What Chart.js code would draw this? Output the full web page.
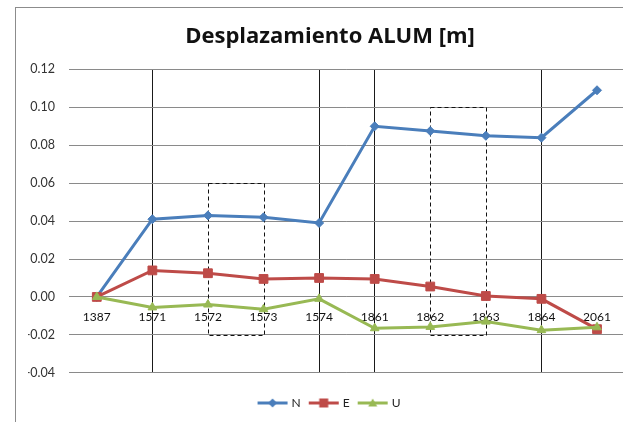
<!DOCTYPE html>
<html>
<head>
<meta charset="utf-8">
<script src="https://cdn.jsdelivr.net/npm/chart.js@4.4.1/dist/chart.umd.min.js"></script>
<style>
  html, body { margin: 0; padding: 0; background: #fff; overflow: hidden; }
  #wrap { width: 623px; height: 422px; position: relative; overflow: hidden; }
  #chart { position: absolute; left: 0; top: 0; }
</style>
</head>
<body>
<div id="wrap"><canvas id="chart" width="632" height="422"></canvas></div>
<script>
// Survey epochs (category axis)
const epochs = ['1387', '1571', '1572', '1573', '1574', '1861', '1862', '1863', '1864', '2061'];

// Displacement components [m]
const northValues = [0.000, 0.041, 0.043, 0.042, 0.039, 0.090, 0.0875, 0.085, 0.084, 0.109];
const eastValues  = [0.000, 0.014, 0.0125, 0.0095, 0.010, 0.0095, 0.0055, 0.0005, -0.001, -0.017];
const upValues    = [0.000, -0.0055, -0.004, -0.0065, -0.001, -0.0165, -0.0158, -0.013, -0.0175, -0.016];

// Epochs marked with a solid vertical rule
const markedEpochs = ['1571', '1574', '1861', '1864'];

// Dashed boxes: [from epoch, to epoch, low value, high value]
const boxFrom = ['1572', '1862'];
const boxTo   = ['1573', '1863'];
const boxLow  = [-0.02, -0.02];
const boxHigh = [0.06, 0.10];

// Value axis
const yMin = -0.04, yMax = 0.12, yStep = 0.02;

const colN = '#4A7EBB', colE = '#BE4B48', colU = '#98B954';
const FONT = 'Lato, "Open Sans", "Liberation Sans", sans-serif';

// Small line+marker swatch used in the legend
function swatch(color, style) {
  const c = document.createElement('canvas');
  c.width = 32; c.height = 12;
  const g = c.getContext('2d');
  g.strokeStyle = color; g.fillStyle = color; g.lineWidth = 3;
  g.beginPath(); g.moveTo(1, 6); g.lineTo(31, 6); g.stroke();
  g.beginPath();
  if (style === 'rectRot') { g.moveTo(16, 1.5); g.lineTo(20.5, 6); g.lineTo(16, 10.5); g.lineTo(11.5, 6); }
  else if (style === 'rect') { g.rect(11.5, 1.5, 9, 9); }
  else { g.moveTo(16, 1.5); g.lineTo(20.5, 9.5); g.lineTo(11.5, 9.5); }
  g.closePath(); g.fill();
  return c;
}

const decorations = {
  id: 'decorations',
  beforeDraw(chart) {
    const ctx = chart.ctx;
    ctx.save();
    ctx.fillStyle = '#fff';
    ctx.fillRect(0, 0, chart.width, chart.height);
    ctx.strokeStyle = '#8c8c8c';
    ctx.lineWidth = 1;
    ctx.strokeRect(15.5, 7.5, chart.width + 20, chart.height + 20);
    ctx.restore();
  },
  beforeDatasetsDraw(chart) {
    const ctx = chart.ctx;
    const x = chart.scales.x, y = chart.scales.y;
    ctx.save();
    ctx.strokeStyle = '#111';
    ctx.lineWidth = 1;
    ctx.setLineDash([4, 3]);
    for (let i = 0; i < boxFrom.length; i++) {
      const x1 = Math.round(x.getPixelForValue(epochs.indexOf(boxFrom[i]))) + 0.5;
      const x2 = Math.round(x.getPixelForValue(epochs.indexOf(boxTo[i]))) + 0.5;
      const y1 = Math.round(y.getPixelForValue(boxHigh[i])) + 0.5;
      const y2 = Math.round(y.getPixelForValue(boxLow[i])) + 0.5;
      ctx.strokeRect(x1, y1, x2 - x1, y2 - y1);
    }
    ctx.restore();
  }
};

const series = [
  { label: 'N', data: northValues, color: colN, style: 'rectRot', radius: 4.5, order: 3 },
  { label: 'E', data: eastValues,  color: colE, style: 'rect',    radius: 6.2, order: 2 },
  { label: 'U', data: upValues,    color: colU, style: 'triangle', radius: 5,  order: 1 }
];

new Chart(document.getElementById('chart'), {
  type: 'line',
  data: {
    labels: epochs,
    datasets: series.map(s => ({
      label: s.label,
      data: s.data,
      borderColor: s.color,
      backgroundColor: s.color,
      pointBackgroundColor: s.color,
      pointBorderColor: s.color,
      pointStyle: s.style,
      pointRadius: s.radius,
      pointBorderWidth: 1,
      borderWidth: 3,
      tension: 0,
      order: s.order
    }))
  },
  options: {
    responsive: false,
    animation: false,
    devicePixelRatio: 1,
    layout: { padding: { left: 28, right: 0, top: 0, bottom: 3 } },
    scales: {
      x: {
        type: 'category',
        position: { y: 0 },
        offset: true,
        grid: {
          offset: false,
          drawTicks: false,
          lineWidth: 1,
          color: ctx => (ctx.tick && markedEpochs.includes(epochs[ctx.index])) ? '#1a1a1a' : 'rgba(0,0,0,0)'
        },
        border: { display: false },
        ticks: { color: '#111', font: { family: FONT, size: 12 }, padding: 13, maxRotation: 0, autoSkip: false }
      },
      y: {
        min: yMin, max: yMax,
        afterFit: scale => { scale.width = 41; },
        grid: { color: '#8a8a8a', lineWidth: 1, drawTicks: false },
        border: { display: false },
        ticks: {
          stepSize: yStep,
          padding: 14,
          color: '#333',
          font: { family: FONT, size: 12.5 },
          callback: v => Number(v).toFixed(2)
        }
      }
    },
    plugins: {
      title: {
        display: true,
        text: 'Desplazamiento ALUM [m]',
        color: '#111',
        font: { family: '"Open Sans", Lato, sans-serif', size: 22, weight: 'bold' },
        padding: { top: 24, bottom: 19 }
      },
      legend: {
        position: 'bottom',
        title: { display: true, text: ' ', font: { size: 1 }, padding: { top: 13, bottom: 0 } },
        labels: {
          usePointStyle: true,
          pointStyleWidth: 26,
          padding: 10,
          color: '#222',
          font: { family: FONT, size: 12 },
          sort: (a, b) => a.datasetIndex - b.datasetIndex,
          generateLabels: chart => chart.data.datasets.map((d, i) => ({
            text: d.label,
            fillStyle: d.borderColor,
            strokeStyle: d.borderColor,
            lineWidth: 0,
            pointStyle: swatch(d.borderColor, d.pointStyle),
            hidden: false,
            datasetIndex: i,
            fontColor: '#222'
          }))
        }
      },
      tooltip: { enabled: false }
    }
  },
  plugins: [decorations]
});
</script>
</body>
</html>
